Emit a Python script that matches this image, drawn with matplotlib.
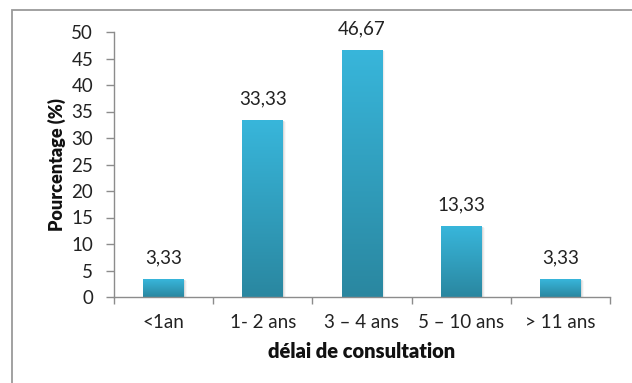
import matplotlib
matplotlib.use("Agg")
import matplotlib.pyplot as plt
import numpy as np
from matplotlib.patches import Rectangle
from matplotlib.colors import LinearSegmentedColormap

categories = ["<1an", "1- 2 ans", "3 \u2013 4 ans", "5 \u2013 10 ans", "> 11 ans"]
values = [3.33, 33.33, 46.67, 13.33, 3.33]
labels = ["3,33", "33,33", "46,67", "13,33", "3,33"]
yticks = [0, 5, 10, 15, 20, 25, 30, 35, 40, 45, 50]

plt.rcParams['font.family'] = ['Lato', 'DejaVu Sans']

W, H = 632, 383
fig = plt.figure(figsize=(W / 100, H / 100), dpi=100)
fig.patch.set_facecolor("white")

# outer frame
fig.patches.append(Rectangle((12 / W, -0.1), 1.2, (H - 10) / H + 0.1,
                             transform=fig.transFigure, fill=False,
                             edgecolor="#9a9a9a", linewidth=1.3))

ax = fig.add_axes([114 / W, (H - 297) / H, (610 - 114) / W, (297 - 32) / H])
x = np.arange(len(categories))
bw = 0.41

cmap = LinearSegmentedColormap.from_list("g", ["#2a87a0", "#38b6db"])
grad = np.linspace(0, 1, 256).reshape(-1, 1)
for xi, v in zip(x, values):
    for k, a in enumerate([0.35, 0.2, 0.1]):
        ax.add_patch(Rectangle((xi - bw / 2 + 0.01 * (k + 1), 0), bw, v - 0.1 * (k + 1),
                               facecolor="#bbbbbb", edgecolor="none", alpha=a, zorder=1))
    bar = ax.bar(xi, v, width=bw, color="none", edgecolor="none", zorder=2)[0]
    im = ax.imshow(grad, extent=(xi - bw / 2, xi + bw / 2, 0, v), origin="lower",
                   cmap=cmap, aspect="auto", zorder=2)
    im.set_clip_path(bar)

for xi, v, lab in zip(x, values, labels):
    ax.text(xi, v + 2.4, lab, ha="center", va="bottom", fontsize=13.5, color="#222222")

ax.set_aspect("auto")
ax.set_xlim(-0.5, len(categories) - 0.5)
ax.set_ylim(0, 50)

ax.set_yticks(yticks)
ax.set_yticklabels([str(t) for t in yticks], fontsize=13.5, color="#222222")
ax.set_xticks(x)
ax.set_xticklabels(categories, fontsize=13.5, color="#222222")
ax.set_xticks(np.arange(-0.5, len(categories)), minor=True)
ax.tick_params(axis="x", which="major", length=0, pad=12)
ax.tick_params(axis="x", which="minor", length=5, color="#8c8c8c", width=1)
ax.tick_params(axis="y", length=6, color="#8c8c8c", width=1, pad=9)

for s in ["top", "right"]:
    ax.spines[s].set_visible(False)
for s in ["left", "bottom"]:
    ax.spines[s].set_color("#8c8c8c")
    ax.spines[s].set_linewidth(1)

ax.set_ylabel("Pourcentage (%)", fontsize=13, fontweight="heavy", color="#111111", labelpad=4)
ax.set_xlabel("d\u00e9lai de consultation", fontsize=14.5, fontweight="heavy", color="#111111", labelpad=8)

fig.savefig("out.png", dpi=100)
